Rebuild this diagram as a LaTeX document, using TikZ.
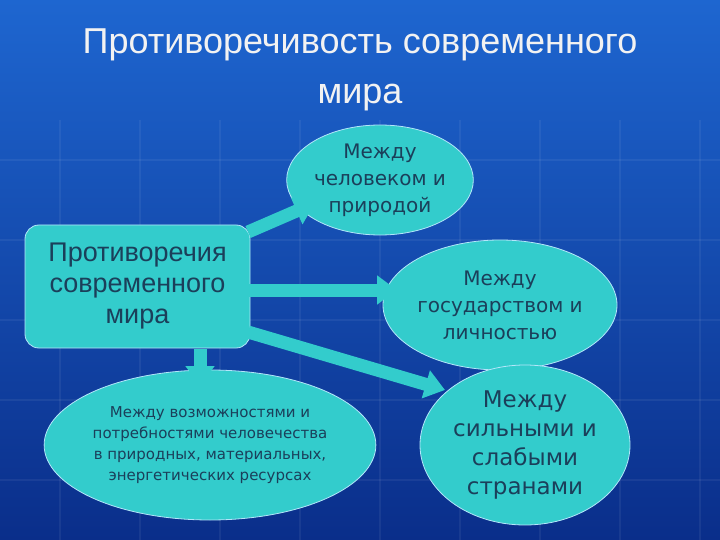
\documentclass[tikz,border=0pt]{standalone}
\usepackage{fontspec}
\setmainfont{Liberation Sans}
\newfontfamily\djvfont{DejaVu Sans}
\usetikzlibrary{shapes.geometric,arrows.meta}
\definecolor{cy}{HTML}{33CCCC}
\definecolor{tx}{HTML}{1B3F5A}
\definecolor{bgA}{HTML}{1E66D0}
\definecolor{bgB}{HTML}{0A2E8A}
\tikzset{
 ell/.style={ellipse,fill=cy,draw=cyan!30,line width=0.8pt,text=tx,align=center,inner sep=0pt},
 barrow/.style={cy,line width=13pt,-{Triangle[width=28pt,length=20pt]}},
}
\begin{document}
\begin{tikzpicture}[x=1pt,y=-1pt]
\shade[top color=bgA,bottom color=bgB] (0,0) rectangle (720,540);
\useasboundingbox (0,0) rectangle (720,540);
\foreach \x in {60,140,220,300,380,460,540,620,700} \draw[white,opacity=0.06,line width=1.5pt] (\x,120) -- (\x,540);
\foreach \y in {160,240,320,400,480} \draw[white,opacity=0.06,line width=1.5pt] (0,\y) -- (720,\y);
\node[white!90!gray,font=\fontsize{36}{50}\selectfont,align=center] (title) at (360,70) {Противоречивость современного\\мира};
\node[ell,minimum width=180,minimum height=110,font=\djvfont\fontsize{20}{27}\selectfont] (e1) at (380,180) {Между\\человеком и\\природой};
\node[ell,minimum width=210,minimum height=130,font=\djvfont\fontsize{20}{27}\selectfont] (e2) at (500,305) {Между\\государством и\\личностью};
\node[ell,minimum width=320,minimum height=150,font=\djvfont\fontsize{15}{21}\selectfont] (e3) at (210,445) {Между возможностями и\\потребностями человечества\\в природных, материальных,\\энергетических ресурсах};
\node[ell,minimum width=210,minimum height=160,font=\djvfont\fontsize{23}{29}\selectfont] (e4) at (525,445) {Между\\сильными и\\слабыми\\странами};
\node[rectangle,rounded corners=14pt,fill=cy,draw=cyan!30,line width=0.8pt,text=tx,align=center,minimum width=225,minimum height=123,font=\fontsize{27}{31}\selectfont] (box) at (137.5,286.5) {Противоречия\\современного\\мира};
\coordinate (a1) at (248,232); \coordinate (b1) at (315,203);
\draw[barrow] (a1) -- (b1);
\coordinate (a2) at (248,290); \coordinate (b2) at (397,290);
\draw[barrow] (a2) -- (b2);
\coordinate (a3) at (248,332); \coordinate (b3) at (445,390);
\draw[barrow] (a3) -- (b3);
\coordinate (a4) at (200,349); \coordinate (b4) at (200,386);
\draw[barrow] (a4) -- (b4);
\end{tikzpicture}
\end{document}
